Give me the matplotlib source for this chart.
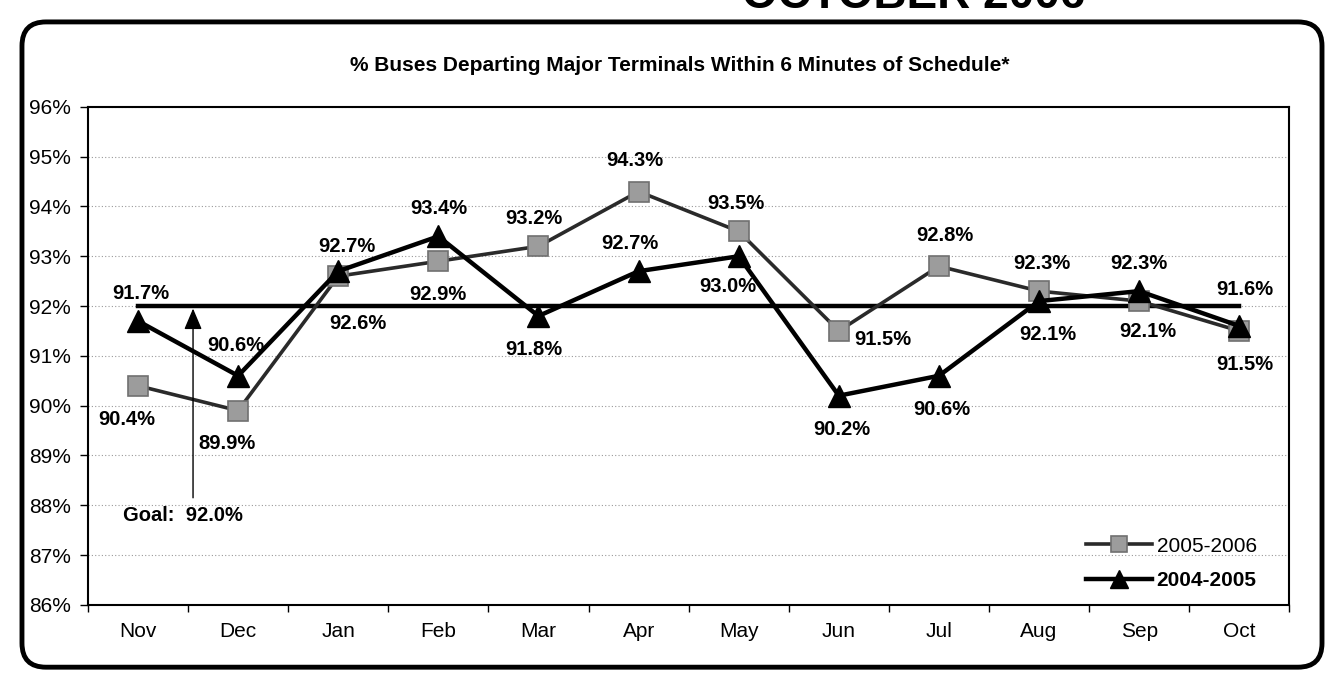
import numpy as np
import matplotlib
matplotlib.use("Agg")
import matplotlib.pyplot as plt
from matplotlib.patches import FancyBboxPatch

plt.rcParams["font.family"] = ["Liberation Sans", "DejaVu Sans"]

months = ["Nov", "Dec", "Jan", "Feb", "Mar", "Apr", "May", "Jun", "Jul", "Aug", "Sep", "Oct"]
fy2006 = [90.4, 89.9, 92.6, 92.9, 93.2, 94.3, 93.5, 91.5, 92.8, 92.3, 92.1, 91.5]
fy2005 = [91.7, 90.6, 92.7, 93.4, 91.8, 92.7, 93.0, 90.2, 90.6, 92.1, 92.3, 91.6]
goal = 92.0
y_ticks = list(range(86, 97))

# label offsets in points (dx, dy) for each series
off_2006 = [(-8, -24), (-8, -24), (14, -34), (0, -24), (-3, 20), (-3, 22), (-2, 20),
            (32, -6), (4, 22), (2, 20), (6, -22), (4, -24)]
off_2005 = [(2, 20), (-2, 22), (6, 18), (0, 20), (-3, -24), (-6, 20), (-8, -22),
            (2, -24), (2, -24), (6, -24), (0, 20), (4, 26)]

fig = plt.figure(figsize=(13.32, 6.85), dpi=100)
ax = fig.add_axes([0.066, 0.117, 0.902, 0.727])

x = np.arange(len(months))

for yv in y_ticks:
    ax.axhline(yv, color="#9a9a9a", lw=0.8, ls=(0, (1, 2)), zorder=0)

ax.plot([x[0], x[-1]], [goal, goal], color="black", lw=3.2, zorder=2)

ax.plot(x, fy2006, color="#2a2a2a", lw=2.6, marker="s", markersize=14,
        markerfacecolor="#9c9c9c", markeredgecolor="#707070", markeredgewidth=1.2,
        label="2005-2006", zorder=3)
ax.plot(x, fy2005, color="black", lw=3.2, marker="^", markersize=16,
        markerfacecolor="black", markeredgecolor="black", label="2004-2005", zorder=4)

for i, v in enumerate(fy2006):
    ax.annotate(f"{v:.1f}%", (x[i], v), xytext=off_2006[i], textcoords="offset points",
                ha="center", va="center", fontsize=14.5, fontweight="bold", zorder=5)
for i, v in enumerate(fy2005):
    ax.annotate(f"{v:.1f}%", (x[i], v), xytext=off_2005[i], textcoords="offset points",
                ha="center", va="center", fontsize=14.5, fontweight="bold", zorder=5)

# goal arrow and label
ax.annotate("", xy=(0.55, 91.95), xytext=(0.55, 88.15),
            arrowprops=dict(arrowstyle="-|>,head_length=1.3,head_width=0.55",
                            lw=1.0, color="black", shrinkA=0, shrinkB=0))
ax.text(0.45, 87.8, "Goal:  92.0%", ha="center", va="center", fontsize=14.5, fontweight="bold")

ax.set_xlim(-0.5, len(months) - 0.5)
ax.set_ylim(86, 96)
ax.set_xticks(x)
ax.set_xticklabels(months, fontsize=15)
ax.set_xticks(np.arange(-0.5, len(months)), minor=True)
ax.tick_params(axis="x", which="major", length=0, pad=12)
ax.tick_params(axis="x", which="minor", length=5, width=1, direction="out")
ax.set_yticks(y_ticks)
ax.set_yticklabels([f"{v}%" for v in y_ticks], fontsize=15)
ax.tick_params(axis="y", length=6, width=1, direction="out", pad=6)
for s in ax.spines.values():
    s.set_linewidth(1.5)
    s.set_color("black")

leg = ax.legend(loc="lower right", frameon=False, fontsize=15, handlelength=3.2,
                handletextpad=0.2, borderaxespad=0.3, labelspacing=0.75,
                markerscale=0.8, bbox_to_anchor=(0.985, 0.0))
leg.get_texts()[1].set_fontweight("bold")

fig.text(0.51, 0.905, "% Buses Departing Major Terminals Within 6 Minutes of Schedule*",
         ha="center", va="center", fontsize=15, fontweight="bold")

# big page heading, cut off at the top of the scan
fig.text(0.686, 0.988, "OCTOBER 2006", ha="center", va="baseline", fontsize=33,
         fontweight="bold")

# rounded frame around the chart
frame = FancyBboxPatch((0.0165, 0.026), 0.976, 0.942, transform=fig.transFigure,
                       boxstyle="round,pad=0,rounding_size=0.018",
                       mutation_aspect=1332 / 685, fill=False, lw=3.5,
                       edgecolor="black", zorder=10)
fig.patches.append(frame)

fig.savefig("out.png", dpi=100)
